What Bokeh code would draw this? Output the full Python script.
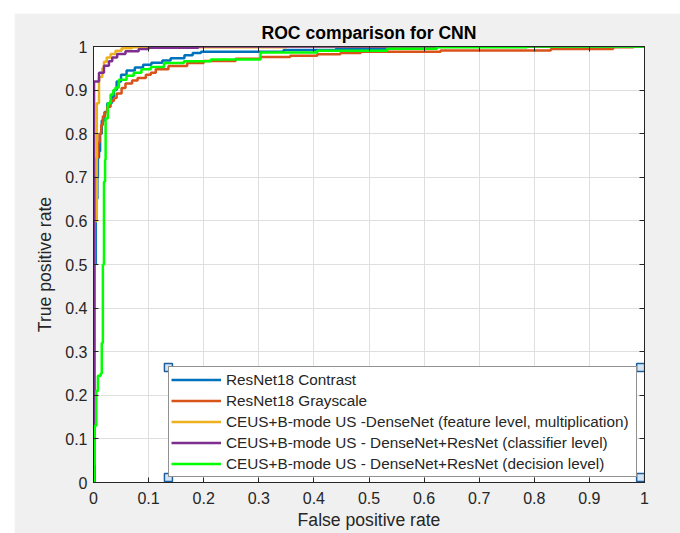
from bokeh.plotting import figure
from bokeh.models import (FixedTicker, CustomJSTickFormatter, LinearAxis, Legend,
                          LegendItem, Range1d)
from bokeh.embed import file_html
from bokeh.resources import INLINE

# ---------------- data ----------------
tick_values = [0.0, 0.1, 0.2, 0.3, 0.4, 0.5, 0.6, 0.7, 0.8, 0.9, 1.0]
tick_labels = ["0", "0.1", "0.2", "0.3", "0.4", "0.5", "0.6", "0.7", "0.8", "0.9", "1"]

series_names = [
    "ResNet18 Contrast",
    "ResNet18 Grayscale",
    "CEUS+B-mode US -DenseNet (feature level, multiplication)",
    "CEUS+B-mode US - DenseNet+ResNet (classifier level)",
    "CEUS+B-mode US - DenseNet+ResNet (decision level)",
]
colors = ["#0072BD", "#D95319", "#EDB120", "#7E2F8E", "#00FF00"]

contrast_fpr = [0, 0.002, 0.004, 0.007, 0.008, 0.010, 0.012, 0.015, 0.020, 0.025, 0.033, 0.037,
                0.042, 0.050, 0.060, 0.075, 0.090, 0.105, 0.125, 0.140, 0.165, 0.180, 0.195,
                0.345, 0.440, 0.560, 0.620, 1.0]
contrast_tpr = [0, 0.50, 0.65, 0.70, 0.745, 0.76, 0.80, 0.83, 0.85, 0.87, 0.885, 0.90,
                0.92, 0.935, 0.945, 0.952, 0.958, 0.963, 0.968, 0.973, 0.980, 0.985, 0.988,
                0.992, 0.995, 0.998, 1.0, 1.0]

gray_fpr = [0, 0.001, 0.002, 0.004, 0.006, 0.008, 0.011, 0.014, 0.017, 0.021, 0.025, 0.031,
            0.037, 0.042, 0.051, 0.058, 0.070, 0.080, 0.095, 0.104, 0.113, 0.136, 0.170,
            0.200, 0.258, 0.303, 0.357, 0.406, 0.448, 0.485, 0.630, 0.830, 0.943, 0.980, 1.0]
gray_tpr = [0, 0.30, 0.60, 0.70, 0.745, 0.78, 0.80, 0.82, 0.84, 0.85, 0.862, 0.875,
            0.882, 0.892, 0.905, 0.915, 0.922, 0.928, 0.935, 0.940, 0.948, 0.955, 0.962,
            0.967, 0.972, 0.976, 0.979, 0.982, 0.985, 0.988, 0.991, 0.994, 0.998, 1.0, 1.0]

feature_fpr = [0, 0.001, 0.006, 0.010, 0.016, 0.019, 0.024, 0.031, 0.040, 0.051, 0.070, 0.350, 1.0]
feature_tpr = [0, 0.60, 0.87, 0.93, 0.95, 0.965, 0.975, 0.983, 0.990, 0.996, 0.998, 1.0, 1.0]

classifier_fpr = [0, 0.001, 0.001, 0.010, 0.019, 0.028, 0.034, 0.043, 0.058, 0.082, 0.100, 0.190, 1.0]
classifier_tpr = [0, 0.06, 0.92, 0.94, 0.956, 0.966, 0.975, 0.983, 0.989, 0.994, 0.997, 1.0, 1.0]

decision_fpr = [0, 0.001, 0.002, 0.005, 0.008, 0.013, 0.015, 0.017, 0.019, 0.021, 0.022, 0.026,
                0.031, 0.036, 0.040, 0.046, 0.060, 0.073, 0.087, 0.104, 0.128, 0.164, 0.213,
                0.303, 0.406, 0.533, 0.623, 0.786, 1.0]
decision_tpr = [0, 0.04, 0.13, 0.21, 0.245, 0.25, 0.32, 0.50, 0.69, 0.74, 0.835, 0.87,
                0.89, 0.90, 0.906, 0.924, 0.933, 0.94, 0.948, 0.953, 0.962, 0.966, 0.97,
                0.986, 0.99, 0.995, 0.998, 1.0, 1.0]

series_fpr = [contrast_fpr, gray_fpr, feature_fpr, classifier_fpr, decision_fpr]
series_tpr = [contrast_tpr, gray_tpr, feature_tpr, classifier_tpr, decision_tpr]

# legend selection handles (decoration from the editing view)
handle_x = [0.136, 0.993, 0.136, 0.993]
handle_y = [0.264, 0.264, 0.0115, 0.0115]

# ---------------- styling ----------------
FONT = "Liberation Sans"
TXT = "#262626"

p = figure(width=666, height=520, output_backend="svg", toolbar_location=None,
           x_range=Range1d(0, 1), y_range=Range1d(0, 1),
           min_border_left=79, min_border_right=36, min_border_top=33, min_border_bottom=51,
           background_fill_color="white", border_fill_color="#f0f0f0",
           outline_line_color=TXT, outline_line_width=1,
           margin=(13, 0, 0, 14))

p.title.text = "ROC comparison for CNN"
p.title.align = "center"
p.title.text_font = FONT
p.title.text_font_size = "17.6px"
p.title.text_font_style = "bold"
p.title.text_color = "black"
p.title.standoff = 8

fmt = CustomJSTickFormatter(args=dict(values=tick_values, labels=tick_labels),
                            code="""
const i = values.findIndex(v => Math.abs(v - tick) < 1e-9);
return i >= 0 ? labels[i] : '';
""")

def style_axis(ax, show_labels=True):
    ax.ticker = FixedTicker(ticks=tick_values)
    ax.major_tick_in = 5
    ax.major_tick_out = 0
    ax.minor_tick_line_color = None
    ax.axis_line_color = TXT
    ax.major_tick_line_color = TXT
    if show_labels:
        ax.formatter = fmt
        ax.major_label_text_font = FONT
        ax.major_label_text_color = TXT
        ax.major_label_text_font_size = "16px"
    else:
        # tick marks only (mirror axis of a boxed plot): no label texts are drawn
        ax.major_label_text_color = None
        ax.major_label_text_font_size = "1px"
        ax.major_label_standoff = 0

style_axis(p.xaxis[0])
style_axis(p.yaxis[0])
p.xaxis.major_label_standoff = 9
p.yaxis.major_label_standoff = 6

p.xaxis.axis_label = "False positive rate"
p.yaxis.axis_label = "True positive rate"
for ax in (p.xaxis[0], p.yaxis[0]):
    ax.axis_label_text_font = FONT
    ax.axis_label_text_font_size = "17.6px"
    ax.axis_label_text_font_style = "normal"
    ax.axis_label_text_color = TXT
p.xaxis.axis_label_standoff = 3
p.yaxis.axis_label_standoff = 7

top_ax = LinearAxis()
right_ax = LinearAxis()
style_axis(top_ax, show_labels=False)
style_axis(right_ax, show_labels=False)
p.add_layout(top_ax, "above")
p.add_layout(right_ax, "right")

p.xgrid.ticker = FixedTicker(ticks=tick_values)
p.ygrid.ticker = FixedTicker(ticks=tick_values)
for g in (p.xgrid[0], p.ygrid[0]):
    g.grid_line_color = "#dfdfdf"
    g.grid_line_width = 1

renderers = []
for fx, ty, c in zip(series_fpr, series_tpr, colors):
    r = p.step(fx, ty, mode="after", line_width=2.5, line_color=c)
    renderers.append(r)

legend = Legend(items=[LegendItem(label=n, renderers=[r]) for n, r in zip(series_names, renderers)],
                location=(75, 5))
legend.label_text_font = FONT
legend.label_text_font_size = "15.3px"
legend.label_text_color = TXT
legend.glyph_width = 50
legend.glyph_height = 21
legend.label_height = 21
legend.label_width = 408
legend.label_standoff = 5
legend.spacing = 0
legend.padding = 2
legend.margin = 0
legend.border_line_color = TXT
legend.border_line_width = 1
legend.background_fill_color = "white"
legend.background_fill_alpha = 1
p.add_layout(legend)

p.scatter(handle_x, handle_y, marker="square", size=8, fill_color="#d4e6f5",
          line_color="#1c5f9e", line_width=1.5)

open("out.html", "w").write(file_html(p, INLINE))
